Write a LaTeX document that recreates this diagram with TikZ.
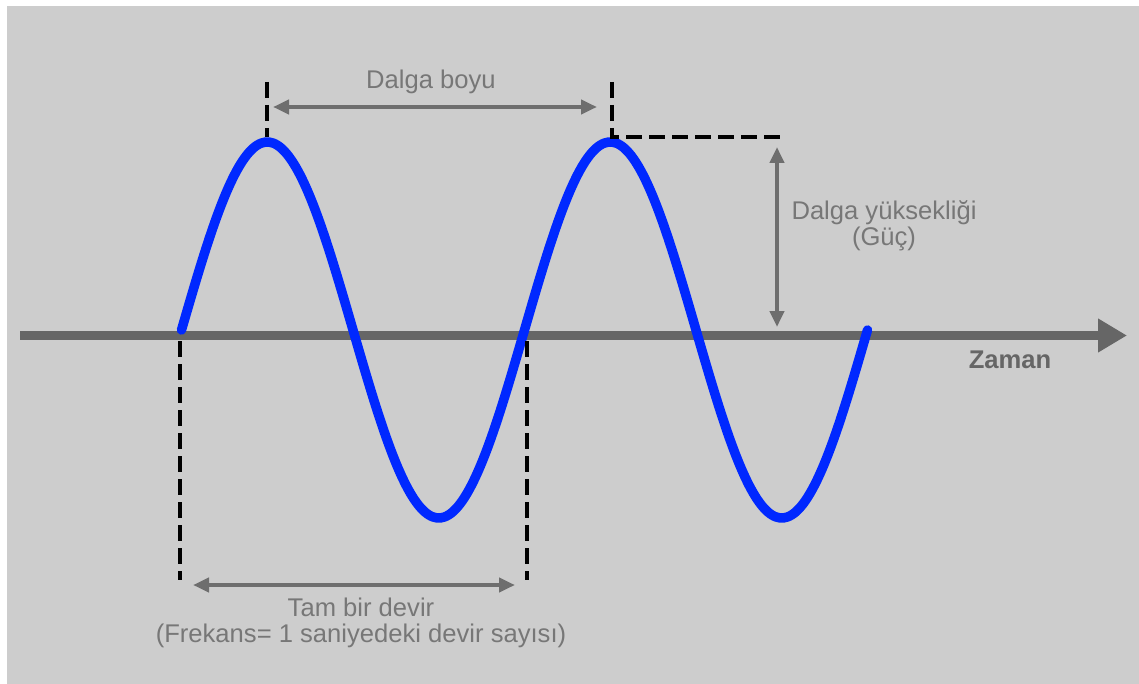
\documentclass[tikz,border=0pt]{standalone}
\usepackage{fontspec}
\setmainfont{Liberation Sans}
\usepackage{tikz}
\usetikzlibrary{arrows.meta}
\definecolor{WaveBlue}{RGB}{0,40,255}
\definecolor{PanelGray}{RGB}{205,205,205}
\definecolor{AxisGray}{RGB}{102,102,102}
\definecolor{DimGray}{RGB}{110,110,110}
\definecolor{LabelGray}{RGB}{119,119,119}

\begin{document}
\begin{tikzpicture}[x=1pt,y=-1pt,
  wave/.style={draw=WaveBlue,line width=9.5pt,line cap=round,line join=round},
  axisline/.style={draw=AxisGray,line width=9pt,-{Triangle[length=29pt,width=32pt]}},
  guide/.style={draw=black,line width=3.2pt,dash pattern=on 16pt off 7pt},
  dim/.style={draw=DimGray,line width=4pt,{Triangle[length=16pt,width=14pt]}-{Triangle[length=16pt,width=14pt]}},
  lbl/.style={text=LabelGray,font=\fontsize{25.6}{25.6}\selectfont,align=center,inner sep=0pt}]
\useasboundingbox (0,0) rectangle (1139,684);
\fill[white] (0,0) rectangle (1139,684);
\fill[PanelGray] (7,6) rectangle (1139,684);
% points of the guide lines
\foreach \n/\x/\y in {pkA/267/137,pkAtop/267/82,pkB/612/137,pkBtop/612/82,pkBend/782/137,
   cyA/180/341,cyAbot/180/580,cyB/527/341,cyBbot/527/580,
   wlA/273/107,wlB/597/107,htA/777/147,htB/777/327,
   tfA/193/585,tfB/515/585,ax0/20/335.5,ax1/1127/335.5} {
   \coordinate (\n) at (\x,\y);
}
\draw[axisline] (ax0) -- (ax1);
\draw[wave] plot[domain=0:720,samples=181,smooth] ({181.5+\x*0.95278},{330-188*sin(\x)});
\draw[guide] (pkAtop) -- (pkA);
\draw[guide] (pkBtop) -- (pkB) -- (pkBend);
\draw[guide] (cyA) -- (cyAbot);
\draw[guide] (cyB) -- (cyBbot);
\draw[dim] (wlA) -- (wlB);
\draw[dim] (htA) -- (htB);
\draw[dim] (tfA) -- (tfB);
\node[lbl] (wavelength) at (431,82) {Dalga boyu};
\node[lbl] (height) at (884,226) {Dalga yüksekliği\\(Güç)};
\node[lbl] (cycle) at (361,623) {Tam bir devir\\(Frekans= 1 saniyedeki devir sayısı)};
\node[lbl,text=AxisGray,font=\fontsize{25.6}{25.6}\selectfont\bfseries] (time) at (1010,360) {Zaman};
\end{tikzpicture}
\end{document}
